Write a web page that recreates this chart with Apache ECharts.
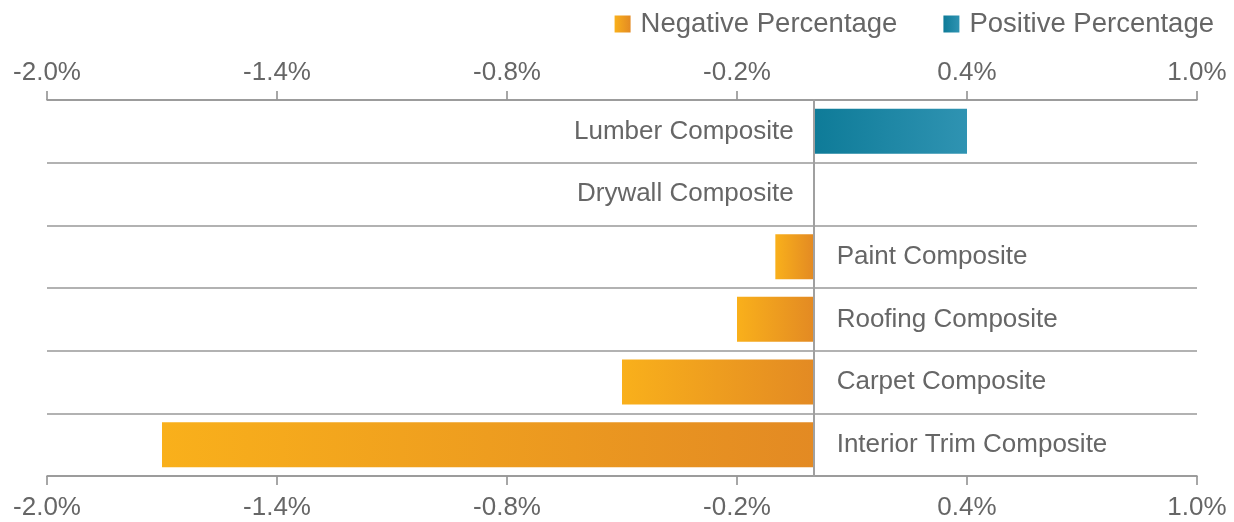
<!DOCTYPE html>
<html>
<head>
    <meta charset="utf-8" />
    <title>Composite change</title>
    <script src="https://cdn.jsdelivr.net/npm/echarts@6/dist/echarts.min.js"></script>
    <style>
        html, body { margin: 0; padding: 0; background: #fff; }
        #main { width: 1234px; height: 522px; }
    </style>
</head>
<body>
    <div id="main"></div>
    <script type="text/javascript">
        var categories = ['Lumber Composite', 'Drywall Composite', 'Paint Composite', 'Roofing Composite', 'Carpet Composite', 'Interior Trim Composite'];
        var negativeValues = ['-', '-', -0.1, -0.2, -0.5, -1.7];
        var positiveValues = [0.4, 0, '-', '-', '-', '-'];
        var axisMin = -2.0, axisMax = 1.0, axisStep = 0.6;

        var font = '"Liberation Sans", Arial, sans-serif';
        var textColor = '#666';

        var orange = new echarts.graphic.LinearGradient(0, 0, 1, 0, [
            { offset: 0, color: '#f9b01b' },
            { offset: 1, color: '#e38a23' }
        ]);
        var teal = new echarts.graphic.LinearGradient(0, 0, 1, 0, [
            { offset: 0, color: '#0e7b98' },
            { offset: 1, color: '#2f93b2' }
        ]);

        function pct(v) {
            return (Math.round(v * 10) / 10).toFixed(1) + '%';
        }

        function xAxisFor(pos, margin) {
            return {
                type: 'value',
                position: pos,
                min: axisMin,
                max: axisMax,
                interval: axisStep,
                axisLine: { show: true, lineStyle: { color: '#8a8a8a', width: 1.5 } },
                axisTick: { show: true, length: 9, lineStyle: { color: '#8a8a8a', width: 1.5 } },
                axisLabel: { color: textColor, fontSize: 26, fontFamily: font, margin: margin, formatter: pct },
                splitLine: { show: false }
            };
        }

        var myChart = echarts.init(document.getElementById('main'));
        var option = {
            animation: false,
            legend: {
                right: 15,
                top: 5,
                itemWidth: 16,
                itemHeight: 17,
                itemGap: 46,
                icon: 'rect',
                textStyle: { color: textColor, fontSize: 27.5, fontFamily: font, padding: [0, 0, 0, 5] },
                data: ['Negative Percentage', 'Positive Percentage']
            },
            grid: { left: 47, right: 37, top: 100, bottom: 46 },
            xAxis: [xAxisFor('bottom', 19), xAxisFor('top', 14)],
            yAxis: {
                type: 'category',
                inverse: true,
                data: categories,
                axisLine: { show: true, onZero: true, lineStyle: { color: '#a0a0a0', width: 2 } },
                axisTick: { show: false },
                axisLabel: { show: false },
                splitLine: { show: true, lineStyle: { color: '#999', width: 1.5 } },
                z: 5
            },
            series: [
                {
                    name: 'Negative Percentage',
                    type: 'bar',
                    data: negativeValues,
                    barWidth: 45,
                    barGap: '-100%',
                    itemStyle: { color: orange },
                    label: {
                        show: true,
                        position: 'right',
                        distance: 23,
                        formatter: '{b}',
                        color: textColor,
                        fontSize: 26,
                        fontFamily: font
                    }
                },
                {
                    name: 'Positive Percentage',
                    type: 'bar',
                    data: positiveValues,
                    barWidth: 45,
                    barGap: '-100%',
                    itemStyle: { color: teal },
                    label: {
                        show: true,
                        position: 'left',
                        distance: 20,
                        formatter: '{b}',
                        color: textColor,
                        fontSize: 26,
                        fontFamily: font
                    }
                }
            ]
        };
        myChart.setOption(option);
    </script>
</body>
</html>
